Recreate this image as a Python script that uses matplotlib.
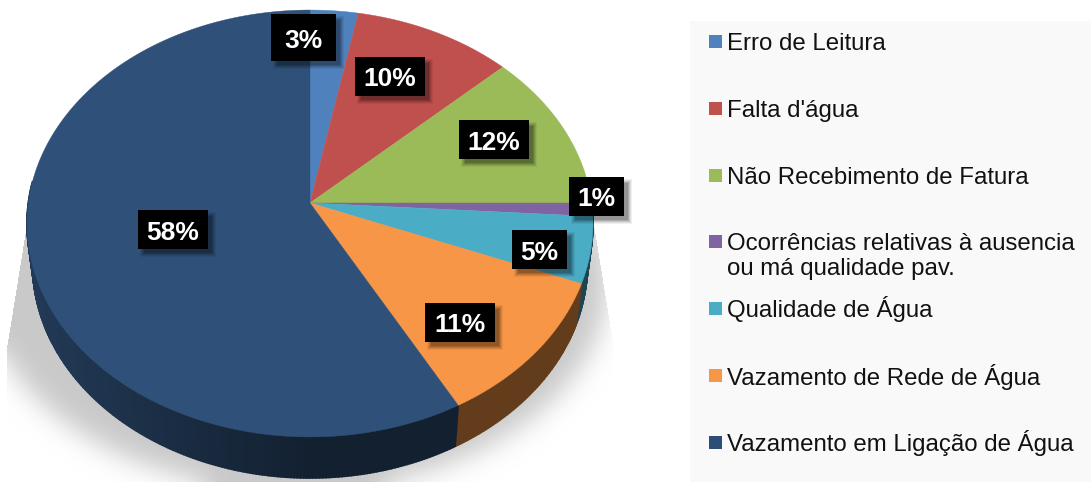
import numpy as np
import matplotlib
matplotlib.use("Agg")
import matplotlib.pyplot as plt
from matplotlib.patches import Polygon, Rectangle
from matplotlib.path import Path

plt.rcParams['font.family'] = ['Liberation Sans', 'DejaVu Sans']

categories = ["Erro de Leitura", "Falta d'água", "Não Recebimento de Fatura",
              "Ocorrências relativas à ausencia\nou má qualidade pav.", "Qualidade de Água",
              "Vazamento de Rede de Água", "Vazamento em Ligação de Água"]
values = [3, 10, 12, 1, 5, 11, 58]
colors = ["#4f81bd", "#c0504d", "#9bbb59", "#8064a2", "#4bacc6", "#f79646", "#2f5078"]
legend_colors = ["#4f81bd", "#c0504d", "#9bbb59", "#8064a2", "#4bacc6", "#f79646", "#2c4d75"]

W, H = 1091, 482
CX, CY = 310, 203
A, B, K = 281.7, 211.5, 0.096
DEPTH, BOTTOM_SCALE = 41, 0.98


def rim(theta):
    # perspective projection of the pie's rim, theta clockwise from the top
    d = 1 + K * np.cos(theta)
    return CX + A * np.sin(theta) / d, CY - B * np.cos(theta) / d


def bottom_rim(theta):
    x, y = rim(theta)
    return CX + BOTTOM_SCALE * (x - CX), y + DEPTH


def shade(color, x):
    # sides get darker towards the right
    rgb = np.array(matplotlib.colors.to_rgb(color))
    f = np.interp(x, [30, 310, 600], [0.72, 0.40, 0.40])
    return tuple(rgb * f)


def draw_shadow(ax):
    yy, xx = np.mgrid[0:H, 0:W]
    mask = (((xx - 295) / 312.0) ** 2 + ((yy - 280) / 210.0) ** 2 < 1).astype(float)
    t = np.arange(-40, 41)
    kernel = np.exp(-t ** 2 / (2 * 13.0 ** 2))
    kernel /= kernel.sum()
    pad = np.pad(mask, 40, mode="edge")
    pad = np.apply_along_axis(lambda r: np.convolve(r, kernel, mode="same"), 0, pad)
    pad = np.apply_along_axis(lambda r: np.convolve(r, kernel, mode="same"), 1, pad)
    mask = pad[40:-40, 40:-40]
    clip = Path([(28, 215), (592, 215), (613, 345), (613, 482), (5, 482), (7, 345)])
    pts = np.column_stack([xx.ravel(), yy.ravel()])
    inside = clip.contains_points(pts).reshape(H, W)
    rgba = np.zeros((H, W, 4))
    rgba[..., :3] = 0.79
    rgba[..., 3] = mask * inside
    ax.imshow(rgba, extent=(0, W, H, 0), zorder=1, interpolation="bilinear", aspect="auto")


fig = plt.figure(figsize=(W / 100, H / 100), dpi=100)
ax = fig.add_axes([0, 0, 1, 1])

draw_shadow(ax)
ax.set_xlim(0, W)
ax.set_ylim(H, 0)
ax.axis("off")

# legend panel
ax.add_patch(Rectangle((690, 21), W - 690, H - 21, fc="#f9f9f9", ec="none", zorder=1))

edges = np.cumsum([0] + values) / sum(values) * 2 * np.pi

# side walls first, then the top faces over them
for i, col in enumerate(colors):
    th = np.linspace(edges[i], edges[i + 1], max(int(values[i] * 6), 3) + 1)
    for t0, t1 in zip(th[:-1], th[1:]):
        if np.cos((t0 + t1) / 2) > 0.1:
            continue
        x0, y0 = rim(t0)
        x1, y1 = rim(t1)
        x2, y2 = bottom_rim(t1)
        x3, y3 = bottom_rim(t0)
        c = shade(col, (x0 + x1) / 2)
        ax.add_patch(Polygon([(x0, y0), (x1, y1), (x2, y2), (x3, y3)], fc=c, ec=c, lw=1.2, zorder=2))

for i, col in enumerate(colors):
    th = np.linspace(edges[i], edges[i + 1], max(int(values[i] * 6), 8) + 1)
    x, y = rim(th)
    pts = [(CX, CY)] + list(zip(x, y))
    ax.add_patch(Polygon(pts, fc=col, ec=col, lw=0.3, zorder=3))

# data labels, boxes
label_boxes = [(271, 14, 65, 47), (355, 57, 70, 39), (459, 120, 70, 39), (569, 177, 55, 39),
               (512, 230, 55, 39), (425, 303, 70, 39), (138, 210, 70, 39)]
for val, (bx, by, bw, bh) in zip(values, label_boxes):
    for grow, alpha in [(3, 0.06), (2, 0.08), (1, 0.10), (0, 0.12), (-1, 0.14)]:
        ax.add_patch(Rectangle((bx + 5 - grow, by + 5 - grow), bw + 2 * grow, bh + 2 * grow,
                               fc="black", ec="none", alpha=alpha, zorder=4))
    ax.add_patch(Rectangle((bx, by), bw, bh, fc="black", ec="none", zorder=5))
    ax.text(bx + bw / 2, by + bh / 2 + 3, f"{val}%", color="white", fontsize=19, fontweight="bold",
            ha="center", va="center", zorder=6)

# legend
square_y = [41, 108, 175, 241, 308, 375, 442]
text_top = [32.5, 99.5, 166.5, 233.5, 296.5, 363.5, 430.5]
for name, col, sy, ty in zip(categories, legend_colors, square_y, text_top):
    ax.add_patch(Rectangle((709, sy - 6.5), 13, 13, fc=col, ec="none", zorder=2))
    ax.text(727, ty, name, color="#111111", fontsize=17.3, ha="left", va="top",
            linespacing=1.13, zorder=2)

fig.savefig("out.png", dpi=100)
